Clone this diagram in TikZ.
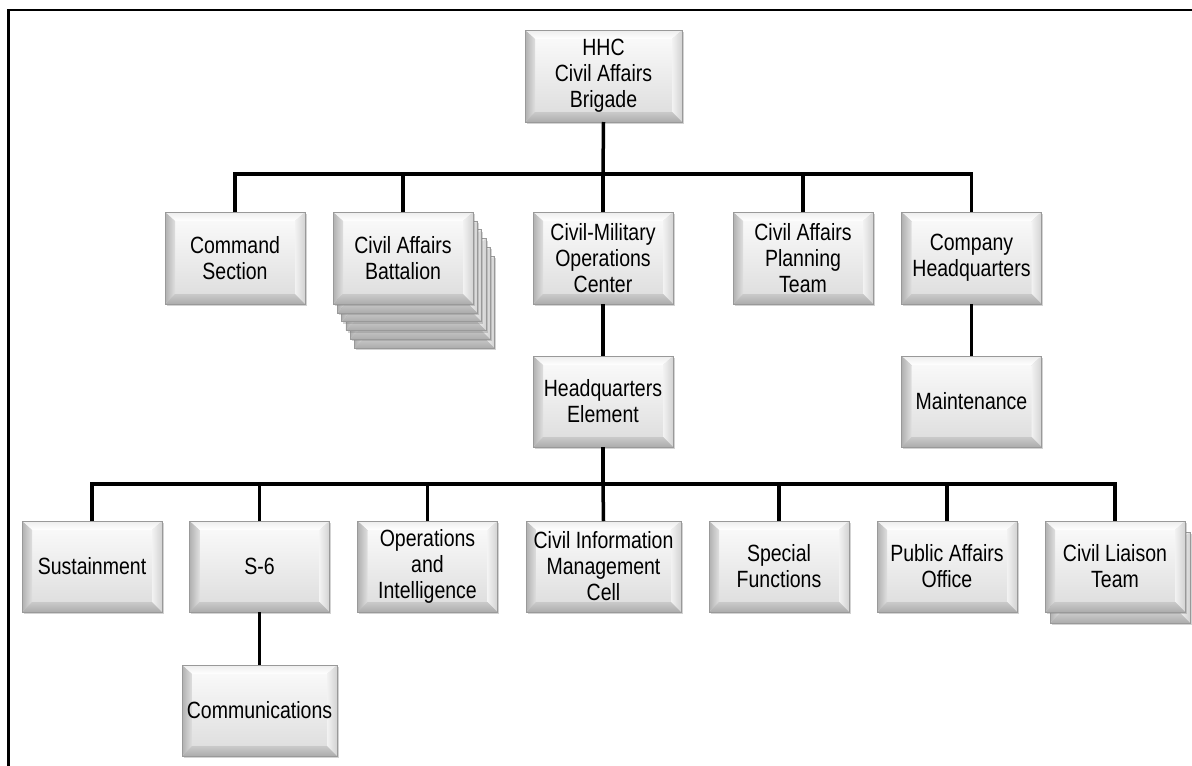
\documentclass[tikz,border=0pt]{standalone}
\usepackage{fontspec}
\setmainfont{Liberation Sans}[FakeStretch=0.83]
\usetikzlibrary{calc,shadows}
\newcommand{\boxfont}{\fontsize{23.5pt}{26pt}\selectfont}
\tikzset{
  bevel/.style={
    rectangle, inner sep=0pt, outer sep=0pt, align=center,
    minimum width=140pt, minimum height=91pt,
    draw=black!40, line width=0.6pt, font=\boxfont, text=black,
    drop shadow={opacity=0.35, shadow xshift=1.8pt, shadow yshift=-2.2pt},
    path picture={
      \coordinate (pNW) at (path picture bounding box.north west);
      \coordinate (pNE) at (path picture bounding box.north east);
      \coordinate (pSW) at (path picture bounding box.south west);
      \coordinate (pSE) at (path picture bounding box.south east);
      \coordinate (iNW) at ($(pNW)+(10pt,-9pt)$);
      \coordinate (iNE) at ($(pNE)+(-10pt,-9pt)$);
      \coordinate (iSW) at ($(pSW)+(10pt,10pt)$);
      \coordinate (iSE) at ($(pSE)+(-10pt,10pt)$);
      \shade[top color=gray!5, bottom color=gray!25] (iNW) rectangle (iSE);
      \shade[top color=gray!14, bottom color=white] (pNW) -- (pNE) -- (iNE) -- (iNW) -- cycle;
      \shade[left color=gray!62, right color=gray!25] (pNW) -- (iNW) -- (iSW) -- (pSW) -- cycle;
      \shade[left color=gray!10, right color=gray!35] (pNE) -- (pSE) -- (iSE) -- (iNE) -- cycle;
      \shade[top color=gray!42, bottom color=gray!65] (pSW) -- (iSW) -- (iSE) -- (pSE) -- cycle;
    }
  },
  conn/.style={line width=3.5pt, black, line join=miter},
  frameline/.style={line width=2.7pt, black}
}
\begin{document}
\begin{tikzpicture}[x=1pt,y=-1pt]
\useasboundingbox (0,0) rectangle (1192,766);
% frame
\coordinate (fbl) at (8.7,766);
\coordinate (ftl) at (8.7,10);
\coordinate (ftr) at (1192,10);
\draw[frameline] (fbl) -- (ftl) -- (ftr);

% top
\node[bevel, minimum width=157pt, minimum height=92pt] (hhc) at (603.5,76) {HHC\\Civil Affairs\\Brigade};

% row 1
\node[bevel, minimum height=92pt] (cs) at (235,258) {Command\\Section};
\foreach \k in {5,4,3,2,1}
  \node[bevel, minimum height=92pt] (cab\k) at ({403+4.3*\k},{258+8.8*\k}) {};
\node[bevel, minimum height=92pt] (cab) at (403,258) {Civil Affairs\\Battalion};
\node[bevel, minimum height=92pt] (cmoc) at (603,258) {Civil-Military\\Operations\\Center};
\node[bevel, minimum height=92pt] (capt) at (803,258) {Civil Affairs\\Planning\\Team};
\node[bevel, minimum height=92pt] (coh) at (971.5,258) {Company\\Headquarters};

% row 1.5
\node[bevel] (hqe) at (603,401.5) {Headquarters\\Element};
\node[bevel] (mnt) at (971.5,401.5) {Maintenance};

% row 2
\node[bevel] (sus) at (92,566.5) {Sustainment};
\node[bevel] (s6) at (259.5,566.5) {S-6};
\node[bevel] (oi) at (427.5,566.5) {Operations\\and\\Intelligence};
\node[bevel, minimum width=155pt] (cim) at (603.5,566.5) {Civil Information\\Management\\Cell};
\node[bevel] (sf) at (779,566.5) {Special\\Functions};
\node[bevel] (pa) at (947,566.5) {Public Affairs\\Office};
\node[bevel] (clt2) at (1120,577.5) {};
\node[bevel] (clt) at (1115,566.5) {Civil Liaison\\Team};

% row 3
\node[bevel, minimum width=155pt] (comm) at (259.5,710.5) {Communications};

% connectors
\coordinate (bar1) at (603,174);
\coordinate (bar2) at (603,484);
\draw[conn] (hhc.south) -- (bar1);
\draw[conn] (cs.north) -- (cs.north |- bar1) -- (coh.north |- bar1) -- (coh.north);
\draw[conn] (cab.north) -- (cab.north |- bar1);
\draw[conn] (bar1) -- (cmoc.north);
\draw[conn] (capt.north) -- (capt.north |- bar1);
\draw[conn] (cmoc.south) -- (hqe.north);
\draw[conn] (coh.south) -- (mnt.north);
\draw[conn] (hqe.south) -- (bar2);
\draw[conn] (sus.north) -- (sus.north |- bar2) -- (clt.north |- bar2) -- (clt.north);
\draw[conn] (s6.north) -- (s6.north |- bar2);
\draw[conn] (oi.north) -- (oi.north |- bar2);
\draw[conn] (bar2) -- (cim.north);
\draw[conn] (sf.north) -- (sf.north |- bar2);
\draw[conn] (pa.north) -- (pa.north |- bar2);
\draw[conn] (s6.south) -- (comm.north);
\end{tikzpicture}
\end{document}
